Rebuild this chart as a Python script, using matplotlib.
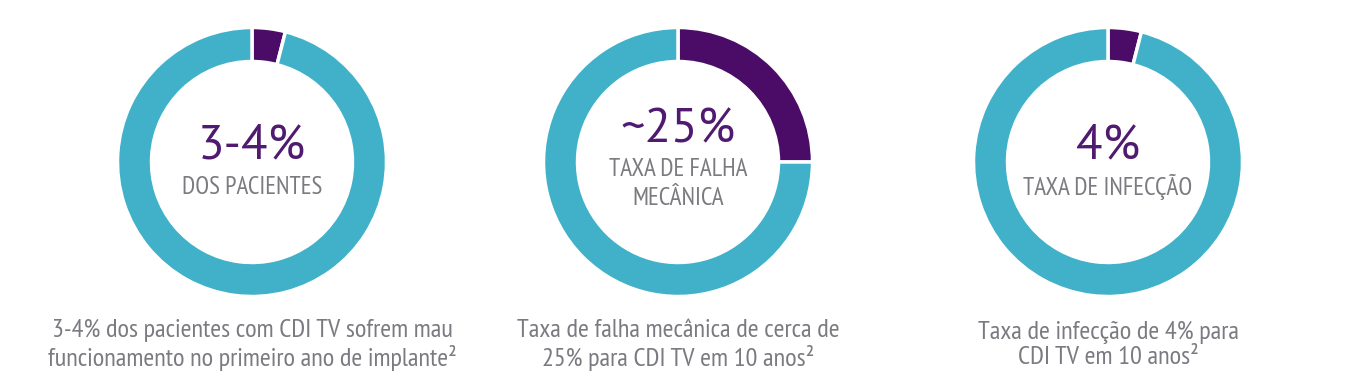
import matplotlib.pyplot as plt

# share of each ring that is highlighted (percent)
shares = [4, 25, 4]
big_labels = ["3-4%", "~25%", "4%"]
inner_labels = ["DOS PACIENTES", "TAXA DE FALHA\nMECÂNICA", "TAXA DE INFECÇÃO"]
captions = [
    "3-4% dos pacientes com CDI TV sofrem mau\nfuncionamento no primeiro ano de implante²",
    "Taxa de falha mecânica de cerca de\n25% para CDI TV em 10 anos²",
    "Taxa de infecção de 4% para\nCDI TV em 10 anos²",
]

teal = "#40B1C9"
purple = "#4A0C66"
num_color = "#4F1A70"
grey = "#7A7A80"
narrow = ["PT Sans Narrow", "Fira Sans Condensed", "DejaVu Sans"]
wide = ["PT Sans", "DejaVu Sans"]

W, H = 1360, 388
fig = plt.figure(figsize=(W / 100, H / 100), dpi=100)
ax = fig.add_axes([0, 0, 1, 1])

centers_x = [252, 678, 1108]
cy = H - 162
for cx, s, big, inner, cap in zip(centers_x, shares, big_labels, inner_labels, captions):
    ax.pie([s, 100 - s], colors=[purple, teal], startangle=90, counterclock=False,
           center=(cx, cy), radius=134.5,
           wedgeprops=dict(width=34, edgecolor="white", linewidth=2.5))
    two_lines = "\n" in inner
    num_y = H - (130 if two_lines else 146)
    ax.text(cx, num_y, big, ha="center", va="center", fontsize=35,
            color=num_color, family=wide)
    lab_y = H - (184 if two_lines else 187)
    ax.text(cx, lab_y, inner, ha="center", va="center", fontsize=18,
            color=grey, family=narrow, linespacing=1.3)
    ax.text(cx, H - 345, cap, ha="center", va="center", fontsize=19,
            color=grey, family=narrow, linespacing=1.1)

ax.set_xlim(0, W)
ax.set_ylim(0, H)
ax.set_aspect("equal")
ax.axis("off")

fig.savefig("out.png", dpi=100, facecolor="white")
